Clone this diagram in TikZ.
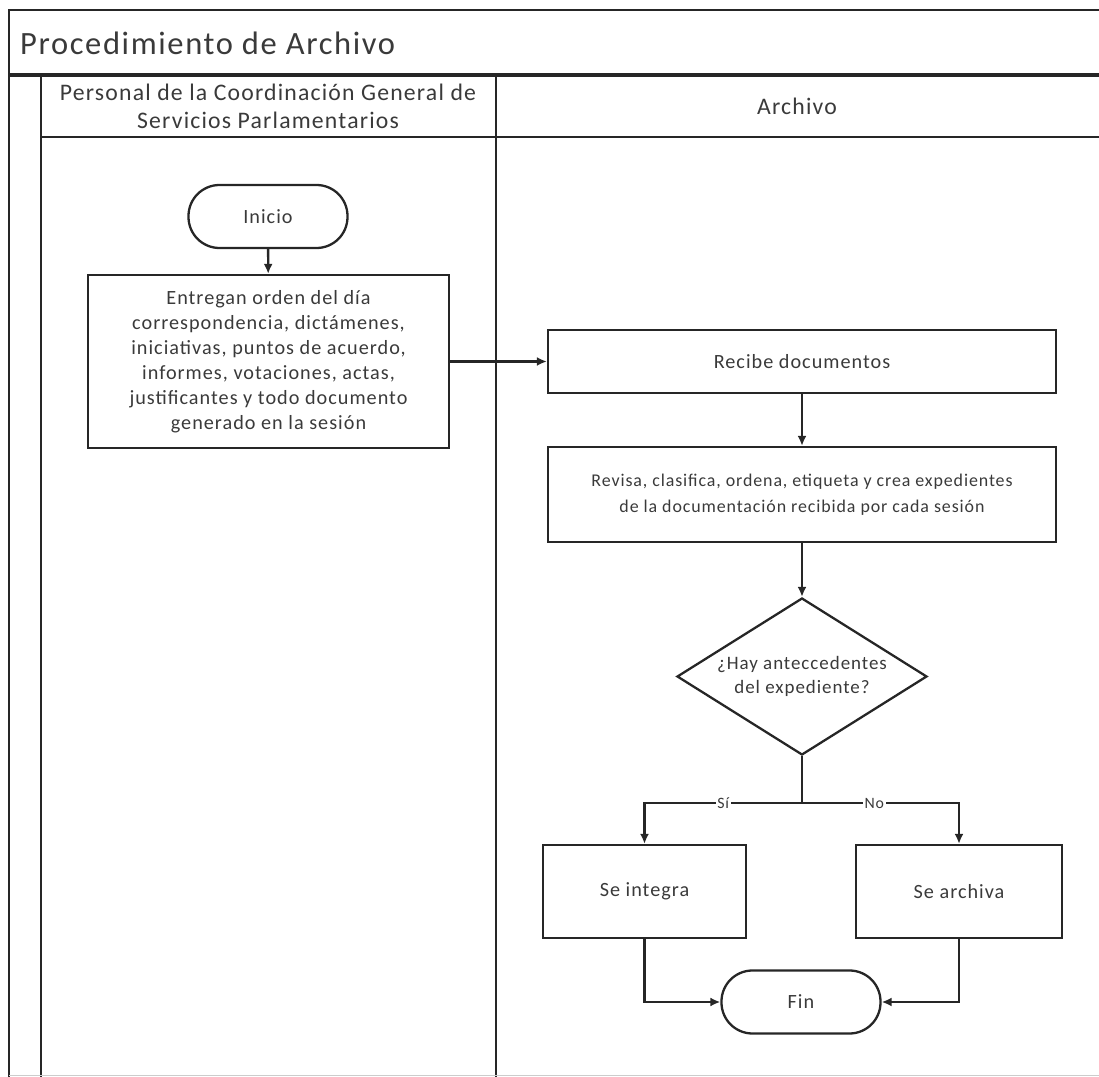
\documentclass[tikz,border=0pt]{standalone}
\usepackage{fontspec}
\setmainfont{Carlito}[LetterSpace=5]
\usepackage{tikz}
\usetikzlibrary{arrows.meta,positioning,shapes.geometric}
\definecolor{ink}{HTML}{262626}
\definecolor{txt}{HTML}{3A3A3A}
\tikzset{frame/.style={draw=ink,line width=1.3pt},flow/.style={-{Latex[length=2mm,width=1.8mm]},draw=ink,line width=1.3pt}}

\begin{document}
\begin{tikzpicture}[x=0.2mm,y=-0.2mm,font=\fontsize{11.5}{14.2}\selectfont,proc/.style={draw=ink,line width=1.3pt,align=center,text=txt,inner sep=2pt},term/.style={proc,rounded corners=6.2mm,minimum width=31.8mm,minimum height=12.6mm},dec/.style={diamond,aspect=1.6,draw=ink,line width=1.3pt,align=center,text=txt,inner sep=0pt,minimum width=50mm,minimum height=31.4mm,font=\fontsize{10.8}{13.5}\selectfont},lbl/.style={fill=white,inner sep=1pt,font=\fontsize{9}{10}\selectfont,text=txt}]
\useasboundingbox (0,0) rectangle (1099,1077);
\draw[frame] (9,1077)--(9,10)--(1099,10);\draw[frame,line width=1.8pt] (9,75)--(1099,75);
\draw[frame] (41,75)--(41,1077);\draw[frame] (41,137)--(1099,137);\draw[frame] (496,75)--(496,1077);
\draw[black!20] (9,1075)--(1099,1075);
\node[anchor=west,text=txt,font=\fontsize{18.5}{22}\selectfont] (titulo) at (14,43) {Procedimiento de Archivo};
\node[align=center,text=txt,font=\fontsize{13.5}{16}\selectfont] (carril1) at (268,106) {Personal de la Coordinación General de\\Servicios Parlamentarios};
\node[text=txt,font=\fontsize{13.5}{16}\selectfont] (carril2) at (797,106) {Archivo};
\node[term] (ini) at (268,216.5) {Inicio};
\node[proc,minimum width=72.2mm,minimum height=34.6mm] (ent) at (268.5,361.5) {Entregan orden del día\\correspondencia, dictámenes,\\iniciativas, puntos de acuerdo,\\informes, votaciones, actas,\\justificantes y todo documento\\generado en la sesión};
\node[proc,minimum width=101.6mm,minimum height=12.6mm] (rec) at (802,361.5) {Recibe documentos};
\node[proc,minimum width=101.6mm,minimum height=19mm,font=\fontsize{10.2}{14.5}\selectfont] (rev) at (802,494.5) {Revisa, clasifica, ordena, etiqueta y crea expedientes\\de la documentación recibida por cada sesión};
\node[dec] (dec) at (802,676.5) {¿Hay anteccedentes\\del expediente?};
\node[proc,minimum width=40.6mm,minimum height=18.6mm] (integ) at (644.5,891.5) {Se integra};
\node[proc,minimum width=41.2mm,minimum height=18.6mm] (arch) at (959,891.5) {Se archiva};
\node[term] (fin) at (801,1002) {Fin};
\coordinate (br) at (802,803);
\draw[flow] (ini)--(ent);\draw[flow] (ent.east)--(rec.west);\draw[flow] (rec)--(rev);\draw[flow] (rev)--(dec);
\draw[flow] (dec.south)--(br)-|node[lbl,pos=.25]{Sí}(integ.north);\draw[flow] (dec.south)--(br)-|node[lbl,pos=.23]{No}(arch.north);
\draw[flow] (integ.south)|-(fin.west);\draw[flow] (arch.south)|-(fin.east);
\end{tikzpicture}
\end{document}
